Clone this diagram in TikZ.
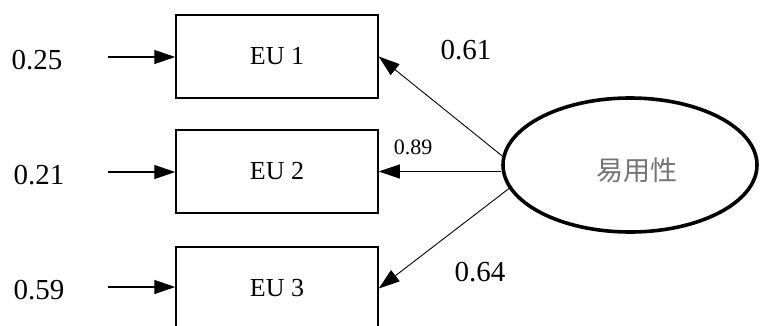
\documentclass[tikz,border=0pt]{standalone}
\usepackage{fontspec}
\setmainfont{Liberation Serif}
\newfontfamily\cjk{Noto Sans CJK SC}
\usetikzlibrary{arrows.meta,shapes.geometric}
\begin{document}
\begin{tikzpicture}[x=1pt,y=-1pt,
  obsbox/.style={draw,line width=1.5pt,minimum width=202pt,minimum height=83pt,inner sep=0pt,font=\fontsize{26}{28}\selectfont},
  latent/.style={draw,ellipse,line width=3.6pt,minimum width=254pt,minimum height=134pt,inner sep=0pt},
  errlab/.style={font=\fontsize{29}{32}\selectfont,inner sep=0pt},
  loadlab/.style={font=\fontsize{29}{32}\selectfont,inner sep=0pt},
  tip/.style={-{Triangle[length=21pt,width=14pt]}},
  errarr/.style={tip,line width=1.3pt},
  loadarr/.style={tip,line width=0.9pt}]
\useasboundingbox (0,0) rectangle (761,325);
\node[obsbox] (b1) at (277,56.5) {EU 1};
\node[obsbox] (b2) at (277,171.5) {EU 2};
\node[obsbox] (b3) at (277,288.5) {EU 3};
\node[latent] (ell) at (630,165) {};
\node[font=\cjk\fontsize{27}{28}\selectfont,text=black!55] (t) at (637,170) {易用性};
\node[errlab] (e1) at (37,60) {0.25};
\node[errlab] (e2) at (39,175) {0.21};
\node[errlab] (e3) at (39,290) {0.59};
\coordinate (s1) at (108,57);
\coordinate (s2) at (108,172);
\coordinate (s3) at (108,287);
\draw[errarr] (s1) -- (b1.west |- s1);
\draw[errarr] (s2) -- (b2.west |- s2);
\draw[errarr] (s3) -- (b3.west |- s3);
\draw[loadarr] (ell.176.5) -- (b1.east);
\draw[loadarr] (ell.west |- b2.east) -- (b2.east);
\draw[loadarr] (ell.191.5) -- (b3.east);
\node[loadlab] (l1) at (466,50) {0.61};
\node[font=\fontsize{22}{24}\selectfont,inner sep=0pt] (l2) at (413,147) {0.89};
\node[loadlab] (l3) at (480,272) {0.64};
\end{tikzpicture}
\end{document}
